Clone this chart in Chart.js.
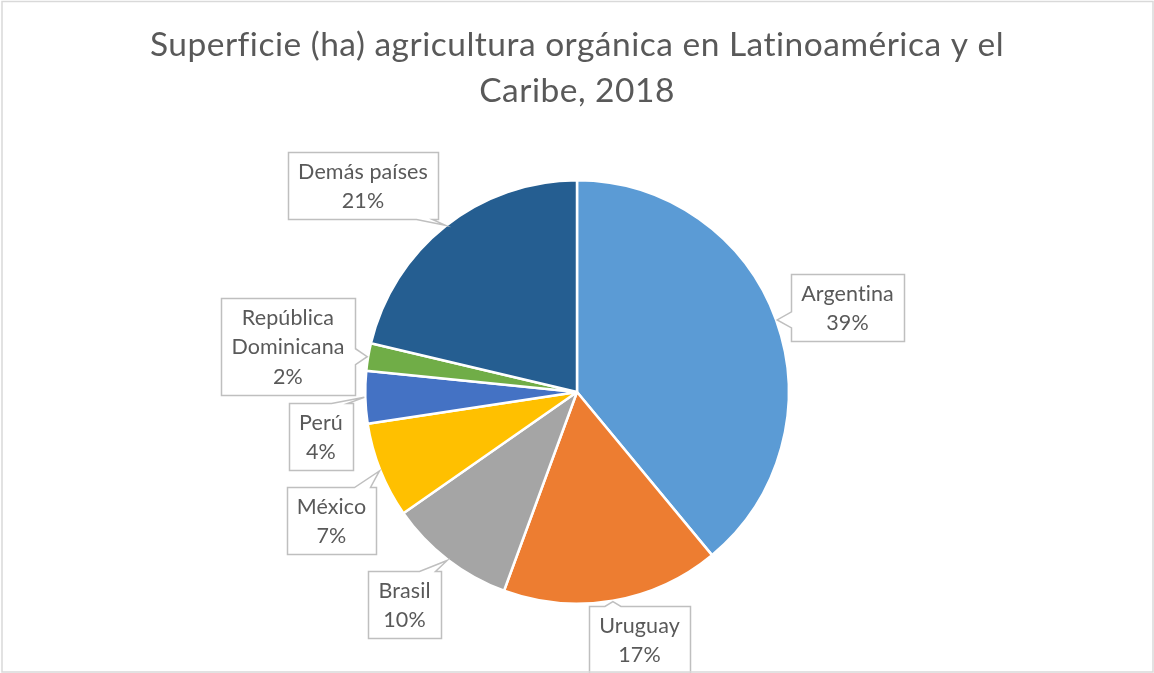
<!DOCTYPE html>
<html lang="es">
<head>
<meta charset="utf-8">
<title>Superficie agricultura orgánica 2018</title>
<script src="https://cdn.jsdelivr.net/npm/chart.js@4.4.1/dist/chart.umd.min.js"></script>
<style>
  html, body { margin: 0; padding: 0; background: #ffffff; }
  #wrap { width: 1154px; height: 673px; position: relative; }
  canvas { display: block; }
</style>
</head>
<body>
<div id="wrap"><canvas id="chart" width="1154" height="673"></canvas></div>
<script>
// Países y participación en la superficie orgánica (%)
const countries = ['Argentina', 'Uruguay', 'Brasil', 'México', 'Perú', 'República Dominicana', 'Demás países'];
const shares = [39.0, 16.6, 9.7, 7.3, 4.0, 2.1, 21.3];
const titleLines = ['Superficie (ha) agricultura orgánica en Latinoamérica y el', 'Caribe, 2018'];

// Estilo
const sliceColors = ['#5B9BD5', '#ED7D31', '#A5A5A5', '#FFC000', '#4472C4', '#70AD47', '#255E91'];
const textColor = '#595959';
const fontFamily = 'Lato, "Open Sans", "Liberation Sans", sans-serif';

// Ubicación de cada etiqueta: centro de la caja respecto al centro del pastel,
// el lado de la caja del que sale la flecha y las líneas del nombre.
const labelLayout = [
  { dx: 270.5, dy: -84.5, side: 'left',   lines: ['Argentina'] },
  { dx: 62.5,  dy: 247.5, side: 'top',    lines: ['Uruguay'] },
  { dx: -172.5, dy: 212.5, side: 'top',   lines: ['Brasil'] },
  { dx: -245.5, dy: 128.5, side: 'top',   lines: ['México'] },
  { dx: -256,  dy: 44.5,  side: 'top',    lines: ['Perú'] },
  { dx: -289,  dy: -45.5, side: 'right',  lines: ['República', 'Dominicana'] },
  { dx: -214,  dy: -206.5, side: 'bottom', lines: ['Demás países'] }
];

const total = shares.reduce((a, b) => a + b, 0);
const pctText = v => Math.round(v / total * 100) + '%';

function clamp(v, lo, hi) { return Math.max(lo, Math.min(hi, v)); }

// Caja con flecha tipo globo
function drawCallout(ctx, box, side, tip) {
  const { l, t, r, b } = box;
  const hw = 8, inset = 14;
  let showWedge = true;
  if (side === 'left' && tip.x > l - 4) showWedge = false;
  if (side === 'right' && tip.x < r + 4) showWedge = false;
  if (side === 'top' && tip.y > t - 4) showWedge = false;
  if (side === 'bottom' && tip.y < b + 4) showWedge = false;

  ctx.beginPath();
  ctx.moveTo(l, t);
  if (showWedge && side === 'top') {
    const c = clamp(tip.x, l + inset, r - inset);
    ctx.lineTo(c - hw, t); ctx.lineTo(tip.x, tip.y); ctx.lineTo(c + hw, t);
  }
  ctx.lineTo(r, t);
  if (showWedge && side === 'right') {
    const c = clamp(tip.y, t + inset, b - inset);
    ctx.lineTo(r, c - hw); ctx.lineTo(tip.x, tip.y); ctx.lineTo(r, c + hw);
  }
  ctx.lineTo(r, b);
  if (showWedge && side === 'bottom') {
    const c = clamp(tip.x, l + inset, r - inset);
    ctx.lineTo(c + hw, b); ctx.lineTo(tip.x, tip.y); ctx.lineTo(c - hw, b);
  }
  ctx.lineTo(l, b);
  if (showWedge && side === 'left') {
    const c = clamp(tip.y, t + inset, b - inset);
    ctx.lineTo(l, c + hw); ctx.lineTo(tip.x, tip.y); ctx.lineTo(l, c - hw);
  }
  ctx.closePath();
  ctx.fillStyle = '#ffffff';
  ctx.fill();
  ctx.lineWidth = 1.5;
  ctx.strokeStyle = '#BFBFBF';
  ctx.stroke();
}

const decorPlugin = {
  id: 'decor',
  afterDraw(chart) {
    const ctx = chart.ctx;
    ctx.save();

    // Título en dos líneas
    ctx.fillStyle = textColor;
    ctx.textAlign = 'center';
    ctx.textBaseline = 'alphabetic';
    ctx.font = '33.5px ' + fontFamily;
    ctx.letterSpacing = '0.5px';
    ctx.fillText(titleLines[0], 577, 56);
    ctx.fillText(titleLines[1], 577, 102);

    // Etiquetas de datos
    const meta = chart.getDatasetMeta(0);
    const lineH = 29.5;
    ctx.font = '21.5px ' + fontFamily;
    ctx.letterSpacing = '0.1px';
    meta.data.forEach((arc, i) => {
      const p = arc.getProps(['x', 'y', 'startAngle', 'endAngle', 'outerRadius'], true);
      const mid = (p.startAngle + p.endAngle) / 2;
      const tip = { x: p.x + Math.cos(mid) * (p.outerRadius + 1), y: p.y + Math.sin(mid) * (p.outerRadius + 1) };
      const lay = labelLayout[i];
      const lines = lay.lines.concat([pctText(shares[i])]);
      const w = Math.max(...lines.map(s => ctx.measureText(s).width)) + 20;
      const h = lines.length * lineH + 8;
      const cx = p.x + lay.dx, cy = p.y + lay.dy;
      const box = { l: Math.round(cx - w / 2) + 0.5, t: Math.round(cy - h / 2) + 0.5, r: Math.round(cx + w / 2) + 0.5, b: Math.round(cy + h / 2) + 0.5 };
      drawCallout(ctx, box, lay.side, tip);
      ctx.fillStyle = textColor;
      ctx.textAlign = 'center';
      ctx.textBaseline = 'middle';
      const y0 = cy - (lines.length - 1) * lineH / 2;
      lines.forEach((s, k) => ctx.fillText(s, cx, y0 + k * lineH + 1));
    });
    ctx.letterSpacing = '0px';

    // Marco del gráfico
    ctx.lineWidth = 1.5;
    ctx.strokeStyle = '#D9D9D9';
    ctx.strokeRect(2, 1.5, 1151, 670.5);
    ctx.restore();
  }
};

new Chart(document.getElementById('chart'), {
  type: 'pie',
  data: {
    labels: countries,
    datasets: [{
      data: shares,
      backgroundColor: sliceColors,
      borderColor: '#ffffff',
      borderWidth: 2.5
    }]
  },
  options: {
    responsive: false,
    animation: false,
    layout: { padding: { top: 179, bottom: 68, left: 0, right: 0 } },
    plugins: {
      legend: { display: false },
      title: { display: false },
      tooltip: { enabled: false }
    }
  },
  plugins: [decorPlugin]
});
</script>
</body>
</html>
